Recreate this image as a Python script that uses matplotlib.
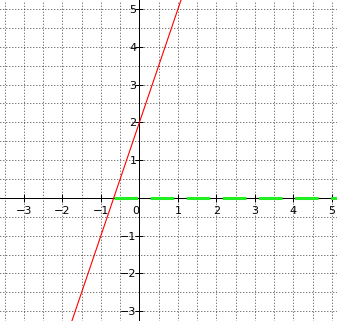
import matplotlib
matplotlib.use("Agg")
import matplotlib.pyplot as plt
import matplotlib.transforms as mtransforms
import numpy as np

# view window
x_range = [-3.62, 5.13]
y_range = [-3.26, 5.24]

# red line y = 3x + 2 (two points)
red_x = [-2.0, 2.0]
red_y = [-4.0, 8.0]

# green segment on the x axis, from the root to the right edge
green_x = [-0.667, 5.13]
green_y = [0.0, 0.0]

x_ticks = [-3, -2, -1, 0, 1, 2, 3, 4, 5]
y_ticks = [-3, -2, -1, 1, 2, 3, 4, 5]
grid_step = 0.5

plt.rcParams["lines.scale_dashes"] = False
plt.rcParams["font.family"] = ["DejaVu Sans"]

fig = plt.figure(figsize=(3.37, 3.21), dpi=100)
ax = fig.add_axes([0, 0, 1, 1])
ax.set_xlim(x_range)
ax.set_ylim(y_range)

# dotted grid every half unit
ax.set_xticks(np.arange(-3.5, 5.01, grid_step), minor=True)
ax.set_yticks(np.arange(-3.0, 5.01, grid_step), minor=True)
ax.grid(True, which="both", color="black", linewidth=0.72,
        linestyle=(0, (0.5, 1.66)), antialiased=True)
ax.tick_params(which="minor", length=0)

# axes through the origin
for side in ["top", "right"]:
    ax.spines[side].set_visible(False)
ax.spines["left"].set_position(("data", 0))
ax.spines["bottom"].set_position(("data", 0))
ax.spines["left"].set_linewidth(0.72)
ax.spines["bottom"].set_linewidth(0.72)

ax.set_xticks(x_ticks)
ax.set_yticks(y_ticks)
ax.set_xticklabels([f"\u2212{abs(v)}" if v < 0 else str(v) for v in x_ticks])
ax.set_yticklabels([f"\u2212{abs(v)}" if v < 0 else str(v) for v in y_ticks])
ax.tick_params(axis="both", which="major", direction="inout", length=6,
               width=0.72, labelsize=8, colors="black")
ax.tick_params(axis="x", pad=3)
ax.tick_params(axis="y", pad=-1)

# nudge the "0" label left of the vertical axis
zero_lbl = ax.get_xticklabels()[x_ticks.index(0)]
zero_lbl.set_transform(zero_lbl.get_transform()
                       + mtransforms.ScaledTranslation(-4 / 100, 0, fig.dpi_scale_trans))

ax.plot(green_x, green_y, color="#22ee22", linewidth=2.2,
        linestyle=(0, (17, 9)), solid_capstyle="butt", zorder=3)
ax.plot(red_x, red_y, color="red", linewidth=0.8, zorder=4)

fig.savefig("out.png", dpi=100)
